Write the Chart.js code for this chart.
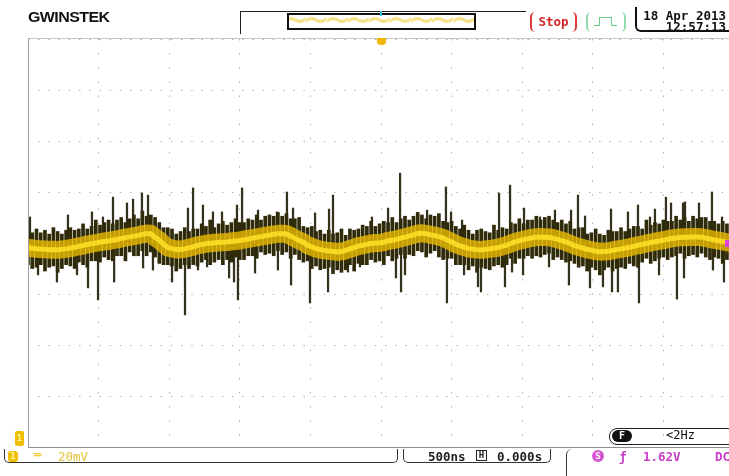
<!DOCTYPE html>
<html>
<head>
<meta charset="utf-8">
<script src="https://cdn.jsdelivr.net/npm/chart.js@4.4.1/dist/chart.umd.min.js"></script>
<style>
  html, body { margin: 0; padding: 0; background: #fff; }
  body { width: 729px; height: 476px; overflow: hidden; position: relative; font-family: "DejaVu Sans Mono", monospace; }
  #wrap { position: absolute; left: 0; top: 0; width: 760px; height: 476px; }
  .abs { position: absolute; white-space: nowrap; }
  #logo { left: 28px; top: 9px; font: bold 16px "Liberation Sans", sans-serif; color: #111; letter-spacing: -0.6px; transform: scaleY(0.9); transform-origin: left top; }
  #memOuter { left: 240px; top: 11px; width: 285px; height: 22px; border-top: 1.5px solid #222; border-left: 1.5px solid #222; }
  #memInner { left: 287px; top: 13px; width: 185px; height: 13px; border: 2px solid #111; overflow: hidden; }
  #memInner span { position: absolute; left: -6px; top: -19px; font-size: 40px; color: #f6e28a; letter-spacing: -3px; }
  #memMark { left: 380px; top: 11px; width: 2px; height: 5px; background: #3cc4e4; }
  #stop { left: 530px; top: 12px; width: 43px; height: 20px; border-left: 2px solid #e03a3a; border-right: 2px solid #e03a3a; border-radius: 5px; color: #d42424; font-weight: bold; font-size: 12.5px; text-align: center; line-height: 19px; }
  #trig { left: 586px; top: 12px; width: 36px; height: 20px; border-left: 2px solid #93dcae; border-right: 2px solid #93dcae; border-radius: 5px; }
  #trig i { position: absolute; left: 11px; top: 5px; width: 11px; height: 8px; border: 1.5px solid #6cc98e; border-bottom: none; }
  #trig b { position: absolute; left: 6px; top: 13px; width: 23px; height: 0; }
  #trig b:before, #trig b:after { content: ""; position: absolute; top: 0; width: 5px; border-top: 1.5px solid #6cc98e; }
  #trig b:before { left: 0; } #trig b:after { right: 0; }
  #date { left: 635px; top: 7px; width: 110px; height: 23px; border-left: 2px solid #111; border-bottom: 2px solid #111; border-bottom-left-radius: 6px; }
  #date div { position: absolute; right: 21px; font-weight: bold; font-size: 12.5px; color: #111; line-height: 11px; }
  #trgPos { left: 377px; top: 38px; width: 9px; height: 7px; background: #f2b800; border-radius: 1px 1px 50% 50%; }
  #frame { left: 28px; top: 38px; width: 740px; height: 408px; border-left: 1px solid #9c9c9c; border-top: 1px solid #c4c4c4; border-bottom: 1px solid #8c8c8c; }
  #gnd { left: 15px; top: 431px; width: 9px; height: 15px; background: #f0c000; border-radius: 2px; color: #fff3b0; font-size: 9px; font-weight: bold; text-align: center; line-height: 15px; }
  #lvl { left: 725px; top: 240px; width: 6px; height: 7px; background: #e040e0; }
  #chBar { left: 4px; top: 449px; width: 392px; height: 13px; border: 1.5px solid #333; border-top: none; border-radius: 0 0 5px 5px; }
  #chIcon { left: 8px; top: 451px; width: 10px; height: 11px; background: #f0c000; border-radius: 3px; color: #fff3b0; font-size: 9px; font-weight: bold; text-align: center; line-height: 11px; }
  #coup { left: 34px; top: 448px; color: #e8c000; font-size: 12px; font-weight: bold; }
  #vdiv { left: 58px; top: 449px; color: #e2c238; font-size: 12.5px; }
  #tBar { left: 403px; top: 449px; width: 146px; height: 13px; border: 1.5px solid #333; border-top: none; border-radius: 0 0 5px 5px; }
  #tdiv { left: 428px; top: 449px; color: #222; font-size: 12.5px; font-weight: bold; }
  #hIcon { left: 476px; top: 450px; width: 9px; height: 9px; border: 1.5px solid #222; color: #222; font-size: 9px; font-weight: bold; text-align: center; line-height: 9px; }
  #tpos { left: 497px; top: 449px; color: #222; font-size: 12.5px; font-weight: bold; }
  #trBar { left: 566px; top: 449px; width: 200px; height: 40px; border-left: 1.5px solid #333; border-top-left-radius: 6px; }
  #sIcon { left: 592px; top: 450px; width: 12px; height: 12px; background: #d455d4; border-radius: 50%; color: #fff; font-size: 9px; font-weight: bold; text-align: center; line-height: 12px; }
  .mag { color: #c83cc8; font-size: 12.5px; font-weight: bold; top: 449px; }
  #slope { left: 619px; } #tlev { left: 643px; } #tcpl { left: 715px; }
  #fBox { left: 609px; top: 428px; width: 140px; height: 15px; border: 1.5px solid #222; border-radius: 8px 0 0 8px; }
  #fIcon { left: 612px; top: 430px; width: 20px; height: 12px; background: #111; border-radius: 6px; color: #fff; font-size: 10px; font-weight: bold; text-align: center; line-height: 12px; }
  #freq { left: 666px; top: 428px; color: #111; font-size: 12px; }
</style>
</head>
<body>
<div id="wrap"><canvas id="scope" width="760" height="476"></canvas></div>

<div class="abs" id="logo">GWINSTEK</div>
<div class="abs" id="memOuter"></div>
<div class="abs" id="memInner"><span>~~~~~~~~~</span></div>
<div class="abs" id="memMark"></div>
<div class="abs" id="stop">Stop</div>
<div class="abs" id="trig"><i></i><b></b></div>
<div class="abs" id="date"><div style="top:3px">18 Apr 2013</div><div style="top:14px">12:57:13</div></div>
<div class="abs" id="frame"></div>
<div class="abs" id="trgPos"></div>
<div class="abs" id="gnd">1</div>
<div class="abs" id="lvl"></div>
<div class="abs" id="fBox"></div>
<div class="abs" id="fIcon">F</div>
<div class="abs" id="freq">&lt;2Hz</div>
<div class="abs" id="chBar"></div>
<div class="abs" id="chIcon">1</div>
<div class="abs" id="coup">═</div>
<div class="abs" id="vdiv">20mV</div>
<div class="abs" id="tBar"></div>
<div class="abs" id="tdiv">500ns</div>
<div class="abs" id="hIcon">H</div>
<div class="abs" id="tpos">0.000s</div>
<div class="abs" id="trBar"></div>
<div class="abs" id="sIcon">S</div>
<div class="abs mag" id="slope">ƒ</div>
<div class="abs mag" id="tlev">1.62V</div>
<div class="abs mag" id="tcpl">DC</div>

<script>
// sample clock of the captured trace (us), screen spans -2.5 .. 2.5 us
const sampleStepUs = 0.03;

// yellow trace core (mV), one value per sample
const coreMv = [
  -2.0,-2.1,-2.3,-2.4,-2.5,-2.6,-2.6,-2.7,-2.5,-2.3,
  -2.0,-1.7,-1.3,-1.0,-0.6,-0.3,0.0,0.3,0.6,0.8,
  1.1,1.4,1.8,2.1,2.4,2.7,3.0,3.4,3.7,3.6,
  2.2,1.1,-0.5,-1.8,-2.2,-2.5,-2.5,-2.3,-1.9,-1.5,
  -0.9,-0.6,-0.3,-0.1,0.1,0.2,0.3,0.4,0.6,0.8,
  1.0,1.3,1.6,1.9,2.2,2.5,2.8,3.1,3.4,3.6,
  3.6,3.5,2.8,1.8,1.0,0.3,-0.9,-1.5,-2.2,-2.6,
  -2.9,-3.1,-3.3,-3.5,-3.3,-2.9,-2.3,-1.8,-1.2,-0.9,
  -0.5,-0.2,0.0,0.0,0.3,0.8,1.1,1.4,1.9,2.3,
  2.7,3.2,3.7,3.8,3.6,3.2,2.9,2.5,2.0,1.2,
  0.4,-0.5,-1.1,-1.6,-2.2,-2.4,-2.6,-2.7,-2.5,-2.3,
  -2.1,-1.8,-1.3,-0.8,-0.2,0.4,0.9,1.3,1.7,2.0,
  2.3,2.4,2.3,2.2,1.9,1.4,0.9,0.4,-0.3,-1.0,
  -1.5,-2.0,-2.5,-2.8,-3.2,-3.4,-3.3,-3.2,-2.9,-2.6,
  -2.3,-2.0,-1.7,-1.3,-0.9,-0.6,-0.2,0.2,0.5,0.8,
  1.1,1.5,1.8,2.0,2.2,2.3,2.3,2.4,2.4,2.3,
  1.9,1.6,1.2,0.9,0.6,0.3,0.1
];

// noise envelope per sample (mV)
const noiseHi = [
  5.0,4.0,5.5,4.0,5.0,3.5,6.0,4.5,3.5,5.0,
  6.0,5.0,5.5,7.5,5.5,6.5,9.0,7.0,8.0,9.0,
  7.5,9.0,10.0,8.0,9.5,11.0,9.5,12.5,10.5,11.0,
  10.0,8.0,6.0,6.0,5.5,3.5,4.5,6.0,4.5,5.5,
  5.5,7.5,6.5,9.0,6.0,7.5,8.5,7.0,8.0,9.5,
  8.0,8.0,9.5,9.0,11.0,9.0,10.5,11.0,10.5,12.0,
  10.5,11.5,9.5,9.5,10.0,6.5,6.0,6.5,4.5,5.0,
  3.5,5.0,3.5,4.0,5.5,3.0,5.5,5.0,5.5,7.0,
  6.5,8.5,6.5,7.5,8.5,8.0,10.0,8.0,9.5,10.5,
  9.0,10.5,12.0,11.0,9.5,11.0,10.5,11.5,8.5,8.0,
  8.5,6.5,5.5,7.0,5.0,3.5,5.0,5.5,4.5,4.0,
  7.0,5.0,6.0,5.5,8.0,7.5,9.5,7.5,9.0,9.0,
  10.5,9.0,10.0,10.5,9.0,8.0,9.0,7.5,8.5,5.5,
  6.0,6.0,3.5,4.0,5.5,3.5,3.0,5.0,4.5,4.5,
  6.0,4.5,5.5,6.5,6.5,5.5,9.0,7.0,8.0,7.5,
  9.0,8.5,8.5,10.5,9.0,10.0,8.5,10.5,9.5,10.0,
  10.0,8.5,8.5,7.5,8.5,7.5,7.5
];
const noiseLo = [
  -8.5,-10.0,-9.5,-8.5,-11.0,-9.5,-9.0,-11.5,-10.0,-8.5,
  -9.0,-10.0,-7.5,-8.5,-9.5,-7.0,-7.0,-7.5,-5.5,-6.5,
  -7.0,-5.0,-5.0,-7.0,-3.5,-5.0,-5.0,-3.0,-5.0,-3.5,
  -5.5,-8.0,-8.5,-8.5,-9.0,-11.0,-10.0,-8.5,-10.0,-8.5,
  -9.0,-7.5,-6.5,-8.5,-7.5,-6.5,-8.5,-6.5,-7.5,-5.5,
  -6.5,-6.5,-5.0,-5.0,-6.0,-3.5,-4.5,-4.0,-5.0,-3.0,
  -4.5,-3.5,-6.0,-4.5,-6.5,-7.5,-7.0,-10.0,-9.0,-10.5,
  -10.0,-9.5,-12.0,-10.5,-11.5,-10.5,-8.5,-11.0,-8.0,-8.5,
  -8.5,-6.5,-7.5,-7.0,-8.5,-5.0,-7.0,-6.0,-4.5,-6.0,
  -4.5,-5.0,-3.0,-3.5,-5.5,-4.0,-3.0,-5.5,-6.5,-6.0,
  -6.0,-8.5,-8.5,-8.5,-10.5,-9.0,-11.5,-9.5,-10.0,-10.5,
  -9.0,-8.5,-9.5,-8.5,-6.0,-8.0,-6.0,-6.0,-5.0,-6.0,
  -5.0,-5.5,-4.5,-4.0,-6.5,-5.5,-6.5,-7.5,-7.0,-8.0,
  -9.5,-9.0,-11.0,-9.5,-10.5,-12.5,-10.5,-9.5,-11.0,-10.0,
  -9.5,-10.0,-8.0,-9.0,-9.5,-7.5,-6.0,-8.0,-7.0,-6.0,
  -5.5,-6.5,-5.5,-5.0,-4.0,-6.0,-5.0,-4.5,-5.5,-4.0,
  -5.5,-6.5,-5.5,-6.0,-8.0,-6.5,-7.5
];

// isolated glitches: time (us) and peak (mV)
const spikeTimes = [
  -2.486,-2.429,-2.295,-2.217,-2.153,-2.075,-2.047,-2.004,-1.969,-1.898,
  -1.890,-1.799,-1.756,-1.693,-1.685,-1.650,-1.615,-1.480,-1.388,-1.367,
  -1.331,-1.296,-1.261,-1.232,-1.190,-1.126,-1.076,-1.041,-1.020,-1.013,
  -0.984,-0.892,-0.871,-0.737,-0.730,-0.666,-0.637,-0.623,-0.503,-0.467,
  -0.375,-0.368,-0.340,-0.234,-0.149,-0.064,0.050,0.106,0.135,0.142,
  0.170,0.326,0.460,0.467,0.496,0.574,0.588,0.687,0.708,0.836,
  0.878,0.914,0.928,1.006,1.013,1.126,1.190,1.232,1.331,1.346,
  1.395,1.445,1.480,1.572,1.629,1.636,1.678,1.749,1.820,1.827,
  1.905,1.940,1.969,2.018,2.054,2.096,2.139,2.146,2.153,2.252,
  2.344,2.351,2.415,2.429
];
const spikeTips = [
  10.2,-12.5,-15.3,11.0,-12.5,-17.6,12.2,-22.3,10.2,18.0,
  -15.3,15.7,17.2,19.6,-9.8,18.8,-10.6,-15.3,-28.2,13.7,
  21.6,-10.6,14.9,-9.4,12.2,12.2,-13.7,-15.3,14.9,-22.3,
  21.6,-11.8,12.9,12.2,-10.6,20.0,-16.5,13.7,-23.5,11.8,
  -19.2,13.3,18.8,-11.4,-9.4,10.2,13.7,-13.7,27.4,-19.2,
  -12.5,12.9,22.0,-23.5,12.2,9.0,-12.5,-17.2,-19.2,19.6,
  -17.2,22.7,-11.4,-12.5,13.7,10.2,-9.4,12.9,-16.5,12.9,
  18.8,10.6,-17.6,-17.2,13.3,-19.2,-19.2,12.2,14.9,-23.5,
  10.2,13.3,-12.5,18.0,15.7,-22.0,15.7,-13.7,16.1,15.7,
  20.0,-10.6,10.2,-15.3
];

const sampleTimes = coreMv.map((_, i) => -2.5 + i * sampleStepUs);

const gridX = { color: '#b0b0b0', drawTicks: false, offset: false, lineWidth: 1 };
const gridY = { color: '#b0b0b0', drawTicks: false, lineWidth: 1 };

new Chart(document.getElementById('scope'), {
  type: 'bar',
  data: {
    datasets: [
      {
        type: 'line',
        data: sampleTimes.map((t, i) => ({ x: t, y: coreMv[i] })),
        borderColor: 'rgba(255, 226, 40, 0.85)',
        borderWidth: 5,
        pointRadius: 0,
        order: 1
      },
      {
        type: 'line',
        data: sampleTimes.map((t, i) => ({ x: t, y: coreMv[i] })),
        borderColor: 'rgba(238, 190, 0, 0.78)',
        borderWidth: 18,
        borderJoinStyle: 'round',
        pointRadius: 0,
        order: 2
      },
      {
        data: sampleTimes.map((t, i) => ({ x: t, y: [noiseLo[i], noiseHi[i]] })),
        backgroundColor: '#2f2a08',
        barThickness: 3,
        grouped: false,
        order: 3
      },
      {
        data: spikeTimes.map((t, i) => ({ x: t, y: spikeTips[i] })),
        backgroundColor: '#34311c',
        barThickness: 1.6,
        grouped: false,
        order: 4
      }
    ]
  },
  options: {
    responsive: false,
    animation: false,
    events: [],
    layout: { padding: { left: 28, top: 39, right: 26, bottom: 29 } },
    plugins: { legend: { display: false }, tooltip: { enabled: false } },
    scales: {
      x: {
        type: 'linear', min: -2.5, max: 2.5, offset: false,
        ticks: { display: false, stepSize: 0.5 },
        grid: gridX,
        border: { display: false, dash: [1.5, 12.62] }
      },
      y: {
        min: -80, max: 80,
        ticks: { display: false, stepSize: 20 },
        grid: gridY,
        border: { display: false, dash: [1.5, 8.7] }
      }
    }
  }
});
</script>
</body>
</html>
